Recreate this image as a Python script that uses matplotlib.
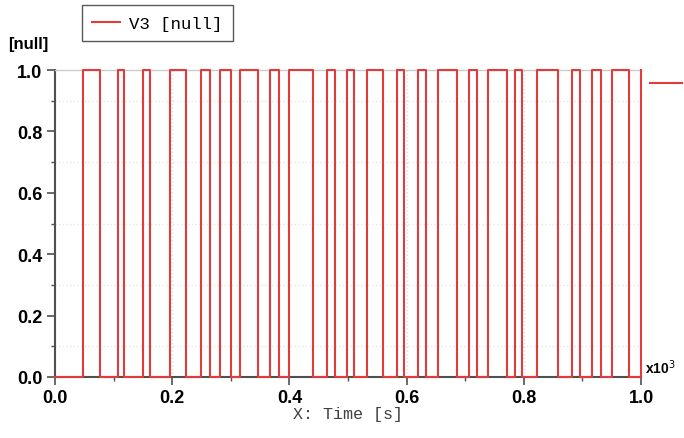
import numpy as np
import matplotlib.pyplot as plt
from matplotlib.ticker import MultipleLocator, FuncFormatter
from matplotlib.lines import Line2D

# pulse edges of V3, in seconds
rise_times = [47, 108, 150, 196, 249, 282, 315, 367, 400, 465, 498, 532,
              583, 619, 654, 706, 739, 785, 822, 882, 917, 950, 1000]
fall_times = [76, 118, 162, 223, 265, 300, 347, 382, 441, 478, 511, 560,
              595, 633, 686, 720, 771, 797, 859, 896, 931, 979]
x_ticks = [0, 200, 400, 600, 800, 1000]
y_ticks = [0.0, 0.2, 0.4, 0.6, 0.8, 1.0]

RED = '#e23b3b'
AXIS = '#505050'

edges = [0.0]
levels = [0.0]
for i, r in enumerate(rise_times):
    edges.append(r)
    levels.append(1.0)
    if i < len(fall_times):
        edges.append(fall_times[i])
        levels.append(0.0)

fig = plt.figure(figsize=(6.84, 4.39), dpi=100)
ax = fig.add_axes([55 / 684, 1 - 378 / 439, 586 / 684, 307 / 439])

ax.step(edges, levels, where='post', color=RED, lw=1.5, clip_on=False, zorder=3)

ax.set_xlim(0, 1000)
ax.set_ylim(0, 1.0)
ax.set_xticks(x_ticks)
ax.set_yticks(y_ticks)
ax.xaxis.set_minor_locator(MultipleLocator(100))
ax.yaxis.set_minor_locator(MultipleLocator(0.1))
ax.xaxis.set_major_formatter(FuncFormatter(lambda v, p: '%.1f' % (v / 1000)))
ax.yaxis.set_major_formatter(FuncFormatter(lambda v, p: '%.1f' % v))

for lab in ax.get_xticklabels() + ax.get_yticklabels():
    lab.set_fontfamily('Liberation Sans')
    lab.set_fontweight('bold')
    lab.set_fontsize(13)

ax.tick_params(axis='both', which='major', direction='out', length=6,
               width=1.2, color=AXIS, pad=3)
ax.tick_params(axis='both', which='minor', direction='out', length=3,
               width=1.0, color=AXIS)

ax.spines['right'].set_visible(False)
ax.spines['top'].set_color('#cccccc')
ax.spines['top'].set_linewidth(1.0)
ax.spines['left'].set_color(AXIS)
ax.spines['bottom'].set_color(AXIS)
ax.spines['left'].set_linewidth(1.5)
ax.spines['bottom'].set_linewidth(1.5)

ax.grid(True, which='major', axis='x', color='#dddddd', ls=':', lw=1.0)
ax.grid(True, which='minor', axis='y', color='#e6e6e6', ls=':', lw=1.0)
ax.set_axisbelow(True)

ax.set_xlabel('X: Time [s]', family='Liberation Mono', fontsize=12,
              color='#404040', labelpad=0)

fig.text(8 / 684, 1 - 44 / 439, '[null]', family='Liberation Sans',
         fontweight='bold', fontsize=12, va='center', ha='left')
fig.text(645 / 684, 1 - 368 / 439, r'x10$^{3}$', family='Liberation Sans',
         fontweight='bold', fontsize=10, va='center', ha='left')

# current value marker at the right edge
fig.add_artist(Line2D([650 / 684, 682 / 684], [1 - 84 / 439, 1 - 84 / 439],
                      color=RED, lw=1.5))

leg = ax.legend([Line2D([0], [0], color=RED, lw=1.5)], ['V3 [null]'],
                loc='lower left', bbox_to_anchor=(82 / 684, 1 - 42 / 439),
                bbox_transform=fig.transFigure, frameon=True, fancybox=False,
                prop={'family': 'Liberation Mono', 'size': 12.5},
                handlelength=1.6, handletextpad=0.5, borderpad=0.6,
                borderaxespad=0)
leg.get_frame().set_edgecolor('#303030')
leg.get_frame().set_linewidth(1.0)

fig.savefig('out.png', dpi=100)
